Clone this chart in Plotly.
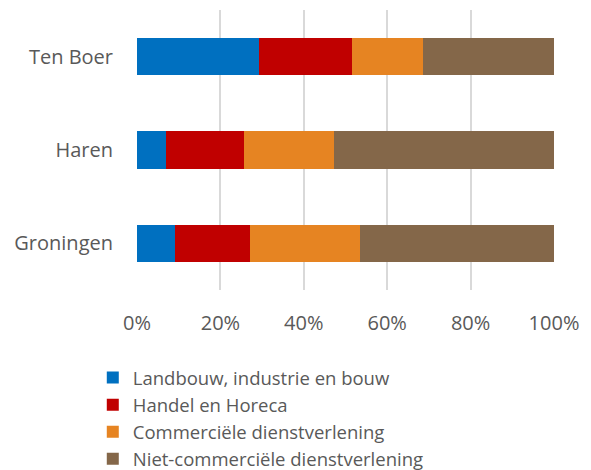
import plotly.graph_objects as go

# Share of employment per sector (fraction of total)
gemeenten = ["Groningen", "Haren", "Ten Boer"]
landbouw = [0.092, 0.070, 0.293]
handel = [0.179, 0.187, 0.223]
commercieel = [0.263, 0.215, 0.171]
niet_commercieel = [0.466, 0.528, 0.313]

series = [
    ("Landbouw, industrie en bouw", landbouw, "#0070C0"),
    ("Handel en Horeca", handel, "#C00000"),
    ("Commerciële dienstverlening", commercieel, "#E68422"),
    ("Niet-commerciële dienstverlening", niet_commercieel, "#846749"),
]

fig = go.Figure()

for name, values, color in series:
    fig.add_trace(go.Bar(
        y=gemeenten,
        x=values,
        name=name,
        orientation='h',
        marker=dict(color=color, line=dict(width=0)),
    ))

fig.update_layout(
    barmode='stack',
    bargap=0.6,
    width=591,
    height=470,
    paper_bgcolor='white',
    plot_bgcolor='white',
    font=dict(family="Open Sans", size=20, color='#595959'),
    margin=dict(l=137, r=37, t=10, b=180, autoexpand=False),
    xaxis=dict(
        range=[0, 1],
        tickvals=[0, 0.2, 0.4, 0.6, 0.8, 1.0],
        tickformat='.0%',
        showgrid=True,
        gridcolor='#D9D9D9',
        gridwidth=1.5,
        zeroline=False,
        ticklabelstandoff=19,
        fixedrange=True,
    ),
    yaxis=dict(
        showgrid=False,
        zeroline=False,
        ticklabelstandoff=23,
        fixedrange=True,
    ),
    legend=dict(
        orientation='v',
        traceorder='normal',
        xref='container',
        yref='container',
        x=0.157,
        y=0.236,
        xanchor='left',
        yanchor='top',
        font=dict(size=18.5, color='#595959'),
        tracegroupgap=0,
    ),
    showlegend=True,
)

# drop the default 8px body margin so the figure fills the window
fig.write_html(
    "out.html",
    config={'displayModeBar': False},
    post_script="document.body.style.margin = '0';",
)
